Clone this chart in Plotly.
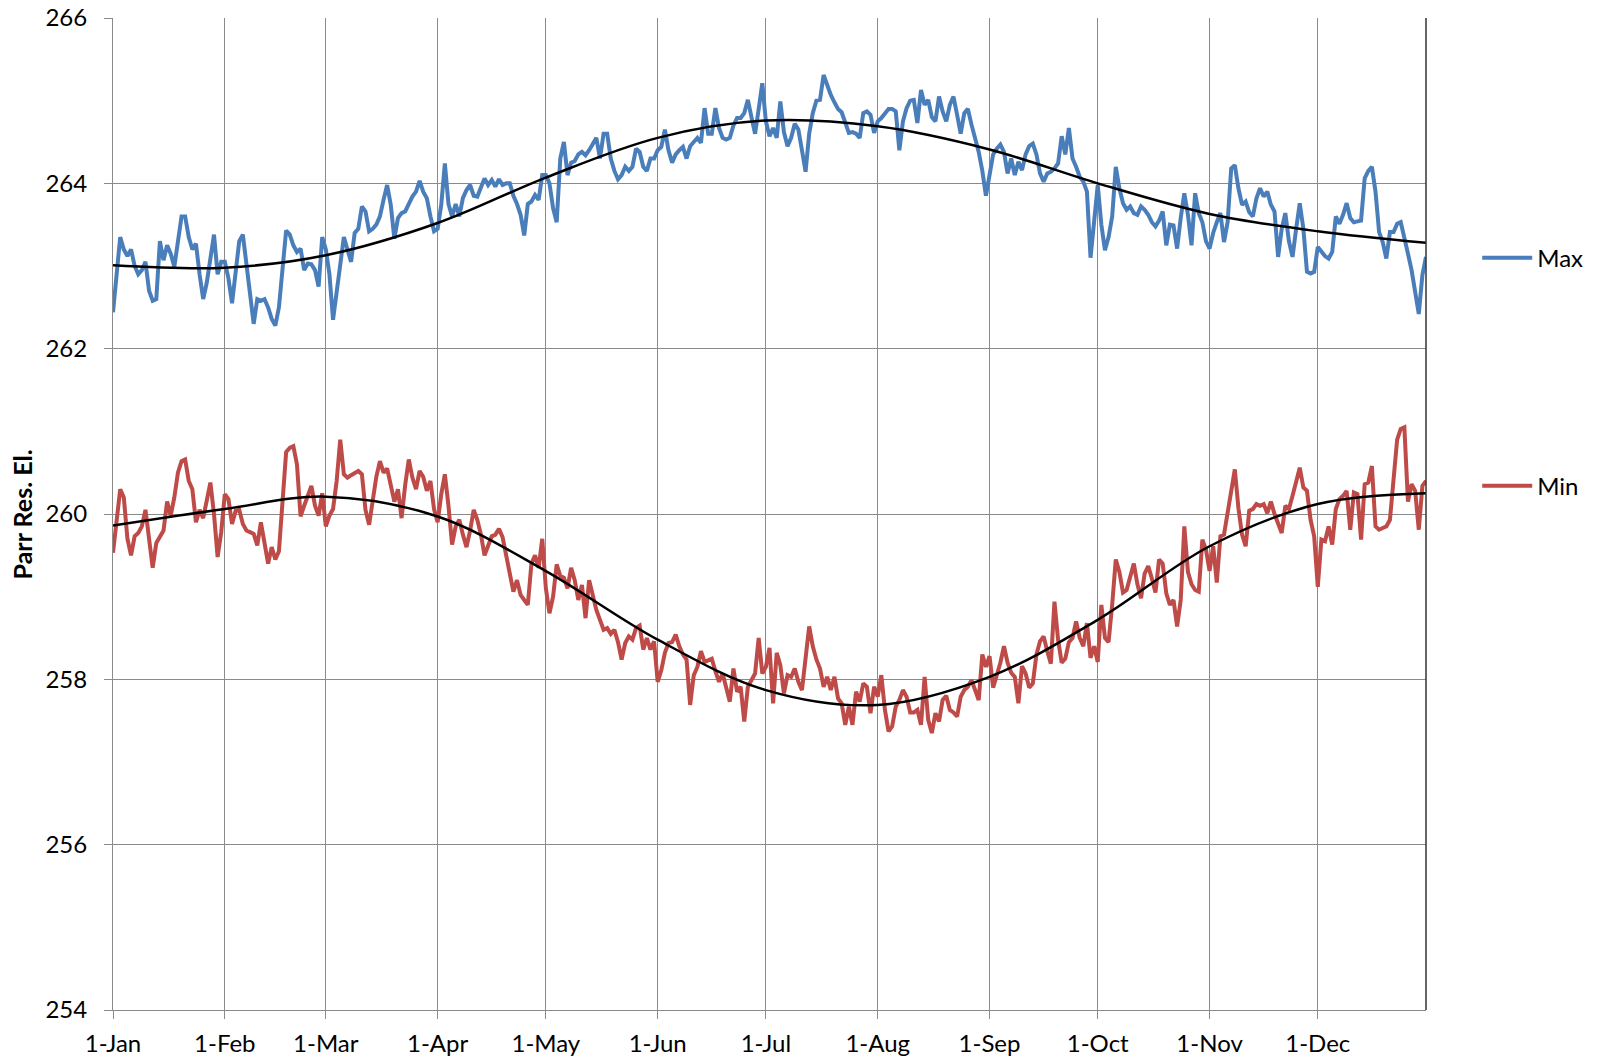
import pandas as pd
import plotly.graph_objects as go

# Daily maximum reservoir elevation, one list per month
max_jan = [262.44, 262.9, 263.35, 263.2, 263.12, 263.2, 263.0, 262.9, 262.95, 263.05, 262.7, 262.58, 262.6, 263.3, 263.07, 263.25, 263.15, 262.99, 263.3, 263.6, 263.6, 263.35, 263.2, 263.27, 262.9, 262.6, 262.8, 263.1, 263.38, 262.9, 263.05]
max_feb = [263.05, 262.85, 262.55, 262.9, 263.3, 263.38, 263.0, 262.7, 262.3, 262.6, 262.58, 262.6, 262.5, 262.36, 262.28, 262.5, 262.95, 263.43, 263.38, 263.25, 263.17, 263.21, 262.95, 263.03, 263.02, 262.95, 262.75, 263.35]
max_mar = [263.2, 262.9, 262.35, 262.7, 263.05, 263.35, 263.2, 263.05, 263.4, 263.45, 263.72, 263.66, 263.42, 263.45, 263.5, 263.6, 263.8, 263.98, 263.74, 263.33, 263.58, 263.64, 263.66, 263.75, 263.84, 263.9, 264.03, 263.9, 263.82, 263.6, 263.42]
max_apr = [263.45, 263.74, 264.24, 263.75, 263.6, 263.75, 263.6, 263.82, 263.92, 263.98, 263.85, 263.84, 263.95, 264.06, 263.98, 264.04, 263.96, 264.05, 263.98, 264.0, 264.0, 263.85, 263.75, 263.62, 263.37, 263.75, 263.78, 263.86, 263.8, 264.1]
max_may = [264.1, 264.0, 263.7, 263.53, 264.3, 264.5, 264.1, 264.25, 264.27, 264.35, 264.38, 264.34, 264.4, 264.48, 264.55, 264.3, 264.6, 264.6, 264.3, 264.15, 264.05, 264.1, 264.2, 264.15, 264.2, 264.42, 264.38, 264.2, 264.15, 264.3, 264.3]
max_jun = [264.4, 264.44, 264.65, 264.4, 264.25, 264.35, 264.4, 264.44, 264.3, 264.45, 264.5, 264.55, 264.49, 264.91, 264.6, 264.6, 264.91, 264.67, 264.55, 264.53, 264.55, 264.7, 264.79, 264.79, 264.85, 265.01, 264.8, 264.6, 264.9, 265.21]
max_jul = [264.75, 264.57, 264.67, 264.55, 264.99, 264.62, 264.45, 264.55, 264.72, 264.65, 264.4, 264.14, 264.6, 264.85, 265.0, 265.01, 265.31, 265.17, 265.07, 264.98, 264.9, 264.86, 264.75, 264.61, 264.62, 264.6, 264.55, 264.85, 264.87, 264.83, 264.61]
max_aug = [264.75, 264.79, 264.85, 264.9, 264.9, 264.87, 264.4, 264.75, 264.91, 265.0, 265.01, 264.73, 265.13, 264.95, 265.01, 264.8, 264.75, 265.05, 264.87, 264.75, 264.95, 265.05, 264.83, 264.6, 264.85, 264.9, 264.71, 264.55, 264.38, 264.15, 263.85]
max_sep = [264.1, 264.35, 264.42, 264.47, 264.38, 264.12, 264.3, 264.1, 264.26, 264.16, 264.35, 264.45, 264.48, 264.35, 264.12, 264.02, 264.12, 264.14, 264.18, 264.24, 264.57, 264.35, 264.67, 264.3, 264.2, 264.08, 264.02, 263.9, 263.1, 263.6]
max_oct = [263.98, 263.5, 263.19, 263.35, 263.6, 264.2, 263.94, 263.76, 263.68, 263.72, 263.64, 263.62, 263.72, 263.68, 263.62, 263.53, 263.48, 263.55, 263.66, 263.25, 263.5, 263.49, 263.21, 263.58, 263.88, 263.62, 263.25, 263.88, 263.64, 263.53, 263.3]
max_nov = [263.21, 263.4, 263.53, 263.64, 263.29, 263.53, 264.18, 264.22, 263.94, 263.74, 263.78, 263.65, 263.6, 263.82, 263.94, 263.84, 263.9, 263.74, 263.66, 263.11, 263.45, 263.64, 263.3, 263.11, 263.45, 263.76, 263.45, 262.93, 262.91, 262.93]
max_dec = [263.23, 263.17, 263.12, 263.09, 263.17, 263.6, 263.51, 263.62, 263.76, 263.58, 263.53, 263.54, 263.55, 264.06, 264.15, 264.2, 263.9, 263.41, 263.29, 263.09, 263.41, 263.41, 263.51, 263.53, 263.31, 263.15, 262.95, 262.69, 262.42, 262.89, 263.11]

# Daily minimum reservoir elevation, one list per month
min_jan = [259.53, 259.9, 260.3, 260.2, 259.7, 259.5, 259.73, 259.77, 259.85, 260.05, 259.7, 259.35, 259.65, 259.73, 259.8, 260.15, 259.98, 260.2, 260.5, 260.64, 260.66, 260.4, 260.3, 259.9, 260.05, 259.95, 260.2, 260.38, 260.0, 259.48, 259.78]
min_feb = [260.24, 260.18, 259.88, 260.04, 260.05, 259.88, 259.8, 259.78, 259.76, 259.62, 259.9, 259.65, 259.4, 259.6, 259.45, 259.55, 260.2, 260.75, 260.8, 260.82, 260.6, 259.97, 260.1, 260.23, 260.34, 260.1, 259.98, 260.25]
min_mar = [259.85, 259.98, 260.06, 260.4, 260.9, 260.48, 260.44, 260.47, 260.5, 260.52, 260.48, 260.05, 259.87, 260.2, 260.45, 260.64, 260.5, 260.55, 260.34, 260.15, 260.3, 259.95, 260.35, 260.66, 260.44, 260.3, 260.52, 260.45, 260.28, 260.4, 260.06]
min_apr = [259.9, 260.24, 260.48, 260.1, 259.63, 259.85, 259.93, 259.75, 259.6, 259.8, 260.05, 259.93, 259.75, 259.5, 259.6, 259.73, 259.75, 259.82, 259.72, 259.5, 259.25, 259.06, 259.2, 259.02, 258.96, 258.9, 259.4, 259.5, 259.35, 259.7]
min_may = [259.1, 258.8, 259.0, 259.39, 259.25, 259.23, 259.1, 259.35, 259.2, 258.96, 259.14, 258.74, 259.2, 259.0, 258.84, 258.72, 258.6, 258.62, 258.55, 258.6, 258.45, 258.24, 258.44, 258.52, 258.48, 258.62, 258.65, 258.36, 258.5, 258.36, 258.46]
min_jun = [257.97, 258.11, 258.32, 258.44, 258.45, 258.54, 258.4, 258.3, 258.24, 257.69, 258.05, 258.15, 258.34, 258.21, 258.23, 258.25, 258.1, 257.97, 258.07, 257.91, 257.73, 258.13, 257.85, 257.91, 257.49, 257.91, 257.99, 258.07, 258.5, 258.07]
min_jul = [258.15, 258.38, 257.71, 258.32, 258.17, 257.83, 258.05, 258.03, 258.13, 257.97, 257.87, 258.24, 258.64, 258.4, 258.24, 258.13, 257.91, 258.03, 257.87, 258.03, 257.77, 257.71, 257.45, 257.67, 257.45, 257.85, 257.73, 257.95, 257.91, 257.59, 257.91]
min_aug = [257.79, 258.05, 257.63, 257.37, 257.43, 257.67, 257.75, 257.87, 257.79, 257.6, 257.6, 257.63, 257.45, 258.03, 257.51, 257.35, 257.59, 257.49, 257.75, 257.8, 257.63, 257.6, 257.55, 257.79, 257.87, 257.91, 257.99, 257.85, 257.75, 258.3, 258.15]
min_sep = [258.28, 257.9, 258.05, 258.2, 258.4, 258.2, 258.08, 258.03, 257.71, 258.16, 258.07, 257.9, 257.95, 258.3, 258.46, 258.52, 258.34, 258.19, 258.94, 258.48, 258.2, 258.25, 258.45, 258.5, 258.7, 258.5, 258.4, 258.68, 258.26, 258.4]
min_oct = [258.21, 258.9, 258.5, 258.45, 258.9, 259.45, 259.3, 259.05, 259.08, 259.25, 259.4, 259.15, 258.98, 259.28, 259.37, 259.22, 259.05, 259.45, 259.4, 259.04, 258.9, 258.96, 258.64, 258.96, 259.85, 259.3, 259.15, 259.08, 259.06, 259.69, 259.57]
min_nov = [259.31, 259.61, 259.17, 259.73, 259.75, 260.0, 260.3, 260.54, 260.07, 259.75, 259.61, 260.04, 260.06, 260.12, 260.1, 260.12, 260.01, 260.15, 260.0, 259.9, 259.77, 260.1, 260.06, 260.22, 260.4, 260.56, 260.32, 260.28, 259.93, 259.73]
min_dec = [259.12, 259.69, 259.67, 259.85, 259.63, 260.06, 260.18, 260.22, 260.28, 259.81, 260.26, 260.24, 259.69, 260.36, 260.38, 260.58, 259.85, 259.81, 259.83, 259.85, 259.93, 260.46, 260.9, 261.03, 261.05, 260.15, 260.36, 260.28, 259.81, 260.34, 260.4]

# Seasonal fit curves, sampled on the first of each month and at year end
fit_dates = ["2010-01-01", "2010-02-01", "2010-03-01", "2010-04-01", "2010-05-01", "2010-06-01",
             "2010-07-01", "2010-08-01", "2010-09-01", "2010-10-01", "2010-11-01", "2010-12-01",
             "2010-12-31"]
max_fit = [263.01, 262.98, 263.13, 263.52, 264.07, 264.55, 264.76, 264.69, 264.41, 264.0, 263.63, 263.42, 263.28]
min_fit = [259.86, 260.06, 260.21, 259.97, 259.31, 258.48, 257.87, 257.69, 258.03, 258.72, 259.61, 260.12, 260.25]

max_months = [max_jan, max_feb, max_mar, max_apr, max_may, max_jun,
              max_jul, max_aug, max_sep, max_oct, max_nov, max_dec]
min_months = [min_jan, min_feb, min_mar, min_apr, min_may, min_jun,
              min_jul, min_aug, min_sep, min_oct, min_nov, min_dec]
days_in_month = [31, 28, 31, 30, 31, 30, 31, 31, 30, 31, 30, 31]
for m, (a, b) in enumerate(zip(max_months, min_months)):
    if len(a) != days_in_month[m] or len(b) != days_in_month[m]:
        raise ValueError(f"month {m + 1}: {len(a)} / {len(b)} values")

max_daily = [v for month in max_months for v in month]
min_daily = [v for month in min_months for v in month]
dates = pd.date_range("2010-01-01", periods=len(max_daily), freq="D")

BLUE = "#4a7ebb"
RED = "#be4b48"
GRID = "#8a8a8a"
FONT = "Lato, 'Open Sans', sans-serif"

fig = go.Figure()
fig.add_trace(go.Scatter(x=dates, y=max_daily, mode="lines", name="Max",
                         line=dict(color=BLUE, width=4), legend="legend"))
fig.add_trace(go.Scatter(x=dates, y=min_daily, mode="lines", name="Min",
                         line=dict(color=RED, width=4), legend="legend2"))
fig.add_trace(go.Scatter(x=fit_dates, y=max_fit, mode="lines", showlegend=False,
                         line=dict(color="black", width=2.5, shape="spline", smoothing=1.0)))
fig.add_trace(go.Scatter(x=fit_dates, y=min_fit, mode="lines", showlegend=False,
                         line=dict(color="black", width=2.5, shape="spline", smoothing=1.0)))

legend_common = dict(xanchor="left", yanchor="middle", bgcolor="rgba(0,0,0,0)",
                     font=dict(family=FONT, size=24, color="black"), itemwidth=50)

fig.update_layout(
    width=1600, height=1059,
    margin=dict(l=113, r=171, t=18, b=49),
    paper_bgcolor="white", plot_bgcolor="white",
    font=dict(family=FONT, color="black"),
    legend=dict(x=1.039, y=0.758, **legend_common),
    legend2=dict(x=1.039, y=0.528, **legend_common),
    xaxis=dict(
        type="date", range=["2010-01-01", "2010-12-31"],
        tick0="2010-01-01", dtick="M1", tickformat="%-d-%b",
        showgrid=True, gridcolor=GRID, gridwidth=1,
        showline=True, linecolor=GRID, linewidth=1,
        ticks="outside", ticklen=8, tickcolor=GRID,
        ticklabelstandoff=4,
        tickfont=dict(family=FONT, size=24, color="black"),
        zeroline=False, automargin=False,
    ),
    yaxis=dict(
        range=[254, 266], dtick=2, tick0=254,
        showgrid=True, gridcolor=GRID, gridwidth=1,
        showline=True, linecolor=GRID, linewidth=1,
        ticks="outside", ticklen=8, tickcolor=GRID,
        ticklabelstandoff=12,
        tickfont=dict(family=FONT, size=24, color="black"),
        zeroline=False, automargin=False,
    ),
    annotations=[dict(
        text="<b>Parr Res. El.</b>", textangle=-90,
        xref="paper", yref="paper", x=-0.069, y=0.5,
        xanchor="center", yanchor="middle", showarrow=False,
        font=dict(family=FONT, size=25, color="black"),
    )],
    shapes=[dict(type="line", xref="paper", yref="paper", x0=1, x1=1, y0=0, y1=1,
                 line=dict(color="#333333", width=1.5))],
)

fig.write_html("out.html")
